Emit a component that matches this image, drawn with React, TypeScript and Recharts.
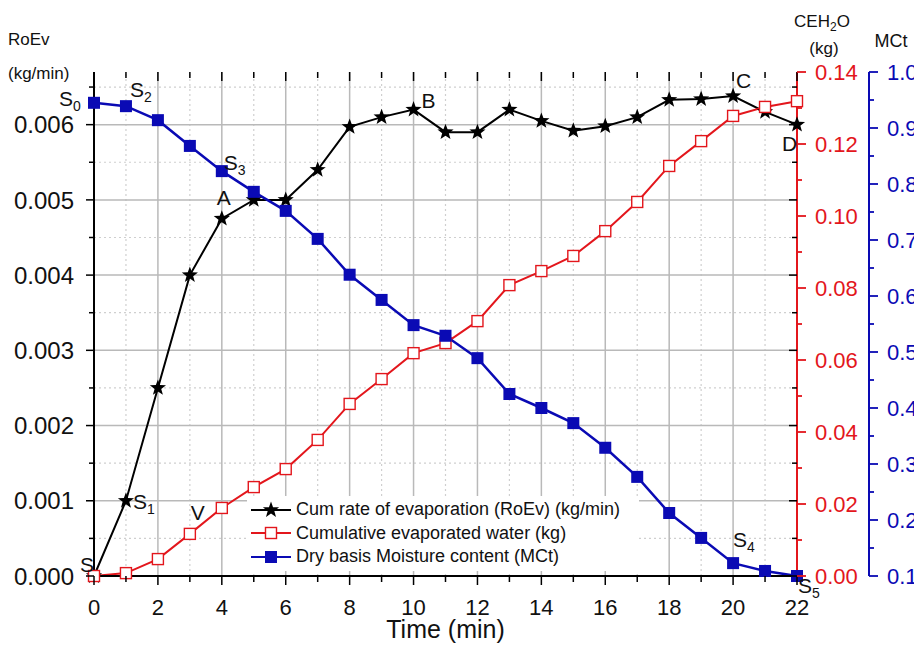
import React from "react";
import {
  LineChart,
  Line,
  XAxis,
  YAxis,
  ReferenceLine,
  Legend,
  LabelList,
} from "recharts";

const minutes = [0, 1, 2, 3, 4, 5, 6, 7, 8, 9, 10, 11, 12, 13, 14, 15, 16, 17, 18, 19, 20, 21, 22];
const roev = [
  0, 0.001, 0.0025, 0.004, 0.00475, 0.005, 0.005, 0.0054, 0.00597, 0.0061, 0.0062, 0.0059,
  0.0059, 0.0062, 0.00605, 0.00592, 0.00598, 0.0061, 0.00633, 0.00634, 0.00638, 0.00617, 0.006,
];
const ceh2o = [
  0, 0.0008, 0.0047, 0.0117, 0.0189, 0.0247, 0.0297, 0.0378, 0.0478, 0.0547, 0.0619, 0.0647,
  0.0708, 0.0808, 0.0847, 0.0889, 0.0958, 0.1039, 0.1139, 0.1208, 0.1278, 0.1303, 0.1319,
];
const mct = [
  0.945, 0.939, 0.914, 0.868, 0.823, 0.786, 0.752, 0.702, 0.638, 0.593, 0.548, 0.529, 0.489,
  0.425, 0.4, 0.373, 0.329, 0.277, 0.2125, 0.168, 0.123, 0.109, 0.1,
];

const xMajor = [0, 2, 4, 6, 8, 10, 12, 14, 16, 18, 20, 22];
const xMinor = [1, 3, 5, 7, 9, 11, 13, 15, 17, 19, 21];
const roevMajor = [0, 0.001, 0.002, 0.003, 0.004, 0.005, 0.006];
const roevMinor = [0.0005, 0.0015, 0.0025, 0.0035, 0.0045, 0.0055, 0.0065];
const cehMajor = [0, 0.02, 0.04, 0.06, 0.08, 0.1, 0.12, 0.14];
const cehMinor = [0.01, 0.03, 0.05, 0.07, 0.09, 0.11, 0.13];
const mctMajor = [0.1, 0.2, 0.3, 0.4, 0.5, 0.6, 0.7, 0.8, 0.9, 1.0];
const mctMinor = [0.15, 0.25, 0.35, 0.45, 0.55, 0.65, 0.75, 0.85, 0.95];

// point annotations: [letter, subscript]
const roevNotes: Record<number, [string, string]> = {
  0: ["S", ""], 1: ["S", "1"], 4: ["A", ""], 10: ["B", ""], 20: ["C", ""], 22: ["D", ""],
};
const cehNotes: Record<number, [string, string]> = { 3: ["V", ""] };
const mctNotes: Record<number, [string, string]> = {
  0: ["S", "0"], 1: ["S", "2"], 4: ["S", "3"], 20: ["S", "4"], 22: ["S", "5"],
};
// pixel offsets of the annotation text from its point
const noteShift: Record<string, [number, number]> = {
  "roev-0": [-14, -4], "roev-1": [7, 8], "roev-4": [-5, -14], "roev-10": [8, -2],
  "roev-20": [3, -8], "roev-22": [-15, 26], "ceh-3": [1, -14],
  "mct-0": [-35, 3], "mct-1": [4, -9], "mct-4": [2, -1], "mct-20": [0, -16], "mct-22": [1, 17],
};

const data = minutes.map((t, i) => ({ t, roev: roev[i], ceh: ceh2o[i], mct: mct[i] }));

const FONT = "'Liberation Sans', Arial, sans-serif";
const BLACK = "#000000";
const RED = "#e3161c";
const BLUE = "#0a0ab4";
const GRID = "#b9b9b9";

const CHART_W = 914;
const CHART_H = 650;
const TOP = 72;
const LEFT_W = 94;
const RED_W = 72;
const BLUE_W = 45;
const X_H = 74;
const PLOT_W = CHART_W - LEFT_W - RED_W - BLUE_W;
const PLOT_H = CHART_H - TOP - X_H;

const byValue = (a: number, b: number) => a - b;

function starPoints(cx: number, cy: number, R: number, r: number) {
  const pts: string[] = [];
  for (let i = 0; i < 10; i++) {
    const ang = -Math.PI / 2 + (i * Math.PI) / 5;
    const rad = i % 2 === 0 ? R : r;
    pts.push(`${cx + rad * Math.cos(ang)},${cy + rad * Math.sin(ang)}`);
  }
  return pts.join(" ");
}

function Marker({ kind, cx, cy }: { kind: string; cx: number; cy: number }) {
  if (kind === "roev") return <polygon points={starPoints(cx, cy, 8.5, 3.5)} fill={BLACK} />;
  if (kind === "ceh")
    return <rect x={cx - 5.5} y={cy - 5.5} width={11} height={11} fill="#fff" stroke={RED} strokeWidth={1.4} />;
  return <rect x={cx - 6} y={cy - 6} width={12} height={12} fill={BLUE} />;
}

const dotFor = (kind: string) => (p: any) =>
  p.cx == null ? <g key={`${kind}-${p.index}`} /> : (
    <g key={`${kind}-${p.index}`}>
      <Marker kind={kind} cx={p.cx} cy={p.cy} />
    </g>
  );

const noteLabel = (kind: string, notes: Record<number, [string, string]>) => (p: any) => {
  const n = notes[p.index];
  if (!n) return null;
  const x = p.viewBox?.x ?? p.x;
  const y = p.viewBox?.y ?? p.y;
  const [dx, dy] = noteShift[`${kind}-${p.index}`] || [0, 0];
  return (
    <text x={x + dx} y={y + dy} fontSize={21} fontFamily={FONT} fill="#111">
      {n[0]}
      {n[1] && (
        <tspan dy={5} fontSize={14}>
          {n[1]}
        </tspan>
      )}
    </text>
  );
};

function leftTick(p: any) {
  const { x, y, payload } = p;
  const major = roevMajor.includes(payload.value);
  const len = major ? 8 : 5;
  return (
    <g>
      <line x1={x} y1={y} x2={x - len} y2={y} stroke={BLACK} strokeWidth={1.5} />
      <line x1={x + PLOT_W} y1={y} x2={x + PLOT_W - len} y2={y} stroke={BLACK} strokeWidth={1.5} />
      {major && (
        <text x={x - 20} y={y} dy="0.36em" textAnchor="end" fontSize={24} fontFamily={FONT} fill="#111">
          {payload.value.toFixed(3)}
        </text>
      )}
    </g>
  );
}

const rightTick = (majors: number[], color: string, digits: number) => (p: any) => {
  const { x, y, payload } = p;
  const major = majors.includes(payload.value);
  const len = major ? 9 : 5;
  return (
    <g>
      <line x1={x} y1={y} x2={x + len} y2={y} stroke={color} strokeWidth={1.8} />
      {major && (
        <text x={x + 18} y={y} dy="0.36em" textAnchor="start" fontSize={22} fontFamily={FONT} fill={color}>
          {payload.value.toFixed(digits)}
        </text>
      )}
    </g>
  );
};

function bottomTick(p: any) {
  const { x, y, payload } = p;
  const major = xMajor.includes(payload.value);
  const len = major ? 9 : 6;
  return (
    <g>
      <line x1={x} y1={y} x2={x} y2={y + len} stroke={BLACK} strokeWidth={1.5} />
      <line x1={x} y1={y - PLOT_H} x2={x} y2={y - PLOT_H + len} stroke={BLACK} strokeWidth={1.5} />
      {major && (
        <text x={x} y={y + 39} textAnchor="middle" fontSize={22} fontFamily={FONT} fill="#111">
          {payload.value}
        </text>
      )}
    </g>
  );
}

const titleStyle = { fontSize: 17, fontFamily: FONT, fill: "#111" };

const renderLegend = (props: any) => (
  <div
    style={{
      background: "#fff",
      padding: "2px 4px",
      fontFamily: FONT,
      fontSize: 18,
      color: "#111",
    }}
  >
    {(props.payload || []).map((e: any) => (
      <div key={e.value} style={{ display: "flex", alignItems: "center", height: 23.5 }}>
        <svg width={40} height={20}>
          <line x1={0} y1={10} x2={40} y2={10} stroke={e.color} strokeWidth={2} />
          <Marker kind={e.dataKey} cx={20} cy={10} />
        </svg>
        <span style={{ marginLeft: 5, whiteSpace: "nowrap" }}>{e.value}</span>
      </div>
    ))}
  </div>
);

export default function App() {
  return (
    <div style={{ position: "absolute", left: 0, top: 0, width: CHART_W, height: CHART_H, background: "#fff" }}>
      <LineChart width={CHART_W} height={CHART_H} data={data} margin={{ top: TOP, right: 0, bottom: 0, left: 0 }}>
        {[...roevMinor].map((v) => (
          <ReferenceLine key={`hm${v}`} y={v} xAxisId="bottom" yAxisId="left" stroke="#cfcfcf" strokeDasharray="2 3" strokeWidth={1.2} />
        ))}
        {xMinor.map((v) => (
          <ReferenceLine key={`vm${v}`} x={v} xAxisId="bottom" yAxisId="left" stroke="#cfcfcf" strokeDasharray="2 3" strokeWidth={1.2} />
        ))}
        {roevMajor.map((v) => (
          <ReferenceLine key={`hM${v}`} y={v} xAxisId="bottom" yAxisId="left" stroke={GRID} strokeWidth={1.5} />
        ))}
        {xMajor.map((v) => (
          <ReferenceLine key={`vM${v}`} x={v} xAxisId="bottom" yAxisId="left" stroke={GRID} strokeWidth={1.5} />
        ))}

        <XAxis
          xAxisId="bottom"
          dataKey="t"
          type="number"
          domain={[0, 22]}
          ticks={[...xMajor, ...xMinor].sort(byValue)}
          interval={0}
          height={X_H}
          tickSize={0}
          tickMargin={0}
          tickLine={false}
          tick={bottomTick}
          axisLine={{ stroke: BLACK, strokeWidth: 2 }}
          label={{ value: "Time (min)", position: "insideBottom", offset: 12, fontSize: 25, fontFamily: FONT, fill: "#111" }}
        />
        <XAxis
          xAxisId="top"
          orientation="top"
          type="number"
          domain={[0, 22]}
          height={0}
          tick={false}
          tickLine={false}
          axisLine={{ stroke: BLACK, strokeWidth: 2 }}
        />
        <YAxis
          yAxisId="left"
          type="number"
          domain={[0, 0.0067]}
          ticks={[...roevMajor, ...roevMinor].sort(byValue)}
          interval={0}
          width={LEFT_W}
          tickSize={0}
          tickMargin={0}
          tickLine={false}
          tick={leftTick}
          axisLine={{ stroke: BLACK, strokeWidth: 2 }}
          label={(p: any) => (
            <g>
              <text x={p.viewBox.x + 8} y={p.viewBox.y - 27} {...titleStyle}>RoEv</text>
              <text x={p.viewBox.x + 8} y={p.viewBox.y + 7} {...titleStyle}>(kg/min)</text>
            </g>
          )}
        />
        <YAxis
          yAxisId="ceh"
          orientation="right"
          type="number"
          domain={[0, 0.14]}
          ticks={[...cehMajor, ...cehMinor].sort(byValue)}
          interval={0}
          width={RED_W}
          tickSize={0}
          tickMargin={0}
          tickLine={false}
          tick={rightTick(cehMajor, RED, 2)}
          axisLine={{ stroke: RED, strokeWidth: 2 }}
          label={(p: any) => (
            <g>
              <text x={p.viewBox.x + 25} y={p.viewBox.y - 45} textAnchor="middle" {...titleStyle}>
                CEH<tspan dy={4} fontSize={12}>2</tspan><tspan dy={-4}>O</tspan>
              </text>
              <text x={p.viewBox.x + 27} y={p.viewBox.y - 18} textAnchor="middle" {...titleStyle}>(kg)</text>
            </g>
          )}
        />
        <YAxis
          yAxisId="mct"
          orientation="right"
          type="number"
          domain={[0.1, 1.0]}
          ticks={[...mctMajor, ...mctMinor].sort(byValue)}
          interval={0}
          width={BLUE_W}
          tickSize={0}
          tickMargin={0}
          tickLine={false}
          tick={rightTick(mctMajor, BLUE, 1)}
          axisLine={{ stroke: BLUE, strokeWidth: 2 }}
          label={(p: any) => (
            <text x={p.viewBox.x + 22} y={p.viewBox.y - 25} textAnchor="middle" {...titleStyle} fontSize={18}>
              MCt
            </text>
          )}
        />

        <Legend
          layout="horizontal"
          verticalAlign="middle"
          align="center"
          content={renderLegend}
          wrapperStyle={{ left: 247, top: 496, width: 392 }}
        />

        <Line
          xAxisId="bottom"
          yAxisId="left"
          dataKey="roev"
          name="Cum rate of evaporation (RoEv) (kg/min)"
          type="linear"
          stroke={BLACK}
          strokeWidth={2}
          dot={dotFor("roev")}
          isAnimationActive={false}
        >
          <LabelList dataKey="roev" content={noteLabel("roev", roevNotes)} />
        </Line>
        <Line
          xAxisId="bottom"
          yAxisId="ceh"
          dataKey="ceh"
          name="Cumulative evaporated water (kg)"
          type="linear"
          stroke={RED}
          strokeWidth={2}
          dot={dotFor("ceh")}
          isAnimationActive={false}
        >
          <LabelList dataKey="ceh" content={noteLabel("ceh", cehNotes)} />
        </Line>
        <Line
          xAxisId="bottom"
          yAxisId="mct"
          dataKey="mct"
          name="Dry basis Moisture content (MCt)"
          type="linear"
          stroke={BLUE}
          strokeWidth={2.5}
          dot={dotFor("mct")}
          isAnimationActive={false}
        >
          <LabelList dataKey="mct" content={noteLabel("mct", mctNotes)} />
        </Line>
      </LineChart>
    </div>
  );
}
